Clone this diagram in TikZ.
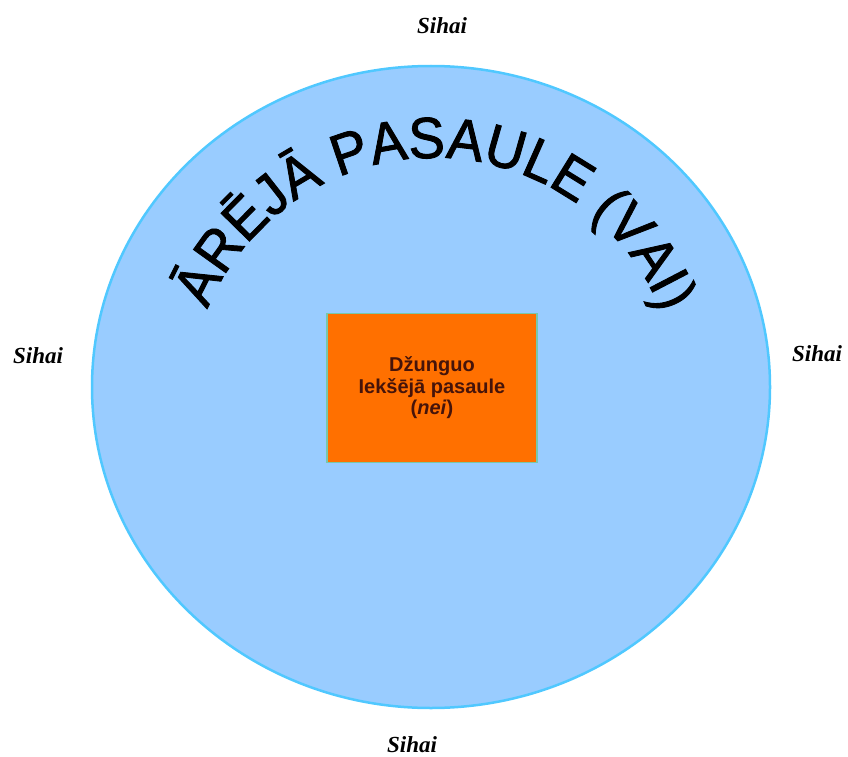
\documentclass[tikz,border=0pt]{standalone}
\usepackage{fontspec}
\setmainfont{Liberation Serif}
\setsansfont{Liberation Sans}
\newfontfamily\arcfont[FakeBold=1.5, FakeStretch=0.94]{Liberation Sans}
\usetikzlibrary{shapes.geometric, decorations.text}
\definecolor{skyblue}{RGB}{153,204,255}
\definecolor{skyedge}{RGB}{80,200,255}
\definecolor{innerorange}{RGB}{255,112,0}
\definecolor{inneredge}{RGB}{120,200,170}
\definecolor{innertext}{RGB}{70,20,10}
\begin{document}
\begin{tikzpicture}[x=1pt, y=1pt,
    sihai/.style={font=\fontsize{23}{23}\selectfont\bfseries\itshape},
    world/.style={ellipse, draw=skyedge, line width=2.5pt, fill=skyblue,
      minimum width=678pt, minimum height=642pt, inner sep=0pt},
    inside/.style={draw=inneredge, line width=1.2pt, fill=innerorange,
      minimum width=210pt, minimum height=149pt, align=center,
      text=innertext, font=\sffamily\bfseries\fontsize{20}{21.5}\selectfont}]
  \useasboundingbox (0,0) rectangle (848,-757);
  \node[world] (W) at (431,-387) {};
  \node[inside] (I) at (432,-388) {D\v{z}unguo\\Iek\v{s}\={e}j\={a} pasaule\\(\textit{nei})};
  % curved title
  \coordinate (C) at (434,-403);
  \path[decorate, decoration={text along path, text align=center,
      text={|\arcfont\fontsize{58}{58}\selectfont|ĀRĒJĀ PASAULE (VAI)}}]
    (C) ++(160.5:245pt) arc[start angle=160.5, end angle=18.5, radius=245pt];
  \foreach\p/\n in {{(442,-26)}/N, {(38,-356)}/L, {(817,-354)}/R, {(412,-745)}/S}{
    \node[sihai] (sihai\n) at \p {Sihai};
  }
\end{tikzpicture}
\end{document}
